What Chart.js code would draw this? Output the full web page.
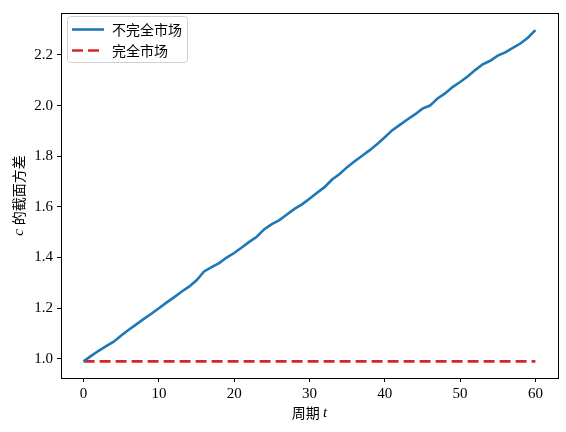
<!DOCTYPE html>
<html>
<head>
<meta charset="utf-8">
<script src="https://cdn.jsdelivr.net/npm/chart.js@4/dist/chart.umd.min.js"></script>
<style>
html,body{margin:0;padding:0;background:#fff;}
#c{display:block;}
</style>
</head>
<body>
<canvas id="c" width="566" height="432"></canvas>
<script>
const periods = [];
for (let t = 0; t <= 60; t++) periods.push(t);
const imperfectMarket = [
  0.990, 1.012, 1.032, 1.050, 1.068, 1.092, 1.115, 1.136, 1.158, 1.178,
  1.200, 1.222, 1.243, 1.265, 1.285, 1.310, 1.345, 1.362, 1.378, 1.400,
  1.418, 1.440, 1.462, 1.482, 1.512, 1.532, 1.548, 1.570, 1.592, 1.610,
  1.632, 1.656, 1.678, 1.708, 1.730, 1.757, 1.780, 1.802, 1.824, 1.848,
  1.875, 1.903, 1.924, 1.945, 1.965, 1.988, 2.000, 2.028, 2.048, 2.073,
  2.093, 2.115, 2.140, 2.163, 2.177, 2.197, 2.210, 2.228, 2.245, 2.268,
  2.298
];
const perfectMarket = periods.map(() => 0.99);
const xTicks = [0, 10, 20, 30, 40, 50, 60];
const yTicks = [1.0, 1.2, 1.4, 1.6, 1.8, 2.0, 2.2];
const seriesLabels = ['不完全市场', '完全市场'];

const FONT = "'Liberation Serif', 'Noto Sans CJK SC', serif";
const CJK = "'Noto Sans CJK SC', 'Liberation Serif', serif";

const frameAndLabels = {
  id: 'frameAndLabels',
  afterDraw(chart) {
    const ctx = chart.ctx;
    const a = chart.chartArea;
    ctx.save();
    ctx.strokeStyle = '#000';
    ctx.lineWidth = 1;
    ctx.strokeRect(Math.round(a.left) + 0.5, Math.round(a.top) + 0.5,
                   Math.round(a.right - a.left), Math.round(a.bottom - a.top));

    // Legend
    const lx = 67, ly = 16, lw = 120, lh = 46;
    ctx.fillStyle = 'rgba(255,255,255,0.8)';
    ctx.strokeStyle = '#d0d0d0';
    ctx.lineWidth = 1;
    ctx.beginPath();
    if (ctx.roundRect) ctx.roundRect(lx + 0.5, ly + 0.5, lw, lh, 3); else ctx.rect(lx + 0.5, ly + 0.5, lw, lh);
    ctx.fill();
    ctx.stroke();
    const rows = [29.5, 50.5];
    chart.data.datasets.forEach((ds, i) => {
      ctx.strokeStyle = ds.borderColor;
      ctx.lineWidth = ds.borderWidth;
      ctx.setLineDash(ds.borderDash || []);
      ctx.beginPath();
      ctx.moveTo(72, rows[i]);
      ctx.lineTo(104, rows[i]);
      ctx.stroke();
      ctx.setLineDash([]);
      ctx.fillStyle = '#000';
      ctx.font = '14px ' + CJK;
      ctx.textBaseline = 'middle';
      ctx.textAlign = 'left';
      ctx.fillText(ds.label, 112, rows[i]);
    });

    // X title: 周期 t
    ctx.fillStyle = '#000';
    ctx.textBaseline = 'middle';
    ctx.font = '14px ' + CJK;
    const xt1 = '周期 ';
    ctx.font = 'italic 15px ' + FONT;
    const wt = ctx.measureText('t').width;
    ctx.font = '14px ' + CJK;
    const w1 = ctx.measureText(xt1).width;
    const cx = (a.left + a.right) / 2;
    let sx = cx - (w1 + wt) / 2;
    ctx.textAlign = 'left';
    ctx.fillText(xt1, sx, 413);
    ctx.font = 'italic 15px ' + FONT;
    ctx.fillText('t', sx + w1, 413);

    // Y title: c 的截面方差
    ctx.save();
    ctx.translate(19, (a.top + a.bottom) / 2);
    ctx.rotate(-Math.PI / 2);
    ctx.font = 'italic 15px ' + FONT;
    const wc = ctx.measureText('c ').width;
    ctx.font = '14px ' + CJK;
    const wr = ctx.measureText('的截面方差').width;
    let sy = -(wc + wr) / 2;
    ctx.font = 'italic 15px ' + FONT;
    ctx.fillText('c ', sy, 0);
    ctx.font = '14px ' + CJK;
    ctx.fillText('的截面方差', sy + wc, 0);
    ctx.restore();
    ctx.restore();
  }
};

new Chart(document.getElementById('c'), {
  type: 'line',
  data: {
    datasets: [
      {
        label: seriesLabels[0],
        data: periods.map((t, i) => ({ x: t, y: imperfectMarket[i] })),
        borderColor: '#1f77b4',
        borderWidth: 2.6,
        pointRadius: 0,
        fill: false,
        tension: 0
      },
      {
        label: seriesLabels[1],
        data: periods.map((t, i) => ({ x: t, y: perfectMarket[i] })),
        borderColor: '#d62728',
        borderWidth: 2.6,
        borderDash: [11, 5],
        pointRadius: 0,
        fill: false,
        tension: 0
      }
    ]
  },
  options: {
    responsive: false,
    animation: false,
    devicePixelRatio: 1,
    layout: { padding: { left: 0, right: 8, top: 5, bottom: 0 } },
    plugins: { legend: { display: false }, tooltip: { enabled: false } },
    scales: {
      x: {
        type: 'linear',
        min: -3,
        max: 63,
        afterBuildTicks(scale) { scale.ticks = xTicks.map(v => ({ value: v })); },
        afterFit(scale) { scale.height = 54; },
        grid: { drawOnChartArea: false, drawTicks: true, tickLength: 4, color: '#000' },
        border: { display: true, color: '#000' },
        ticks: { color: '#000', font: { family: FONT, size: 15 }, padding: 3, maxRotation: 0,
                 callback: v => String(v) }
      },
      y: {
        min: 0.9245,
        max: 2.3655,
        afterBuildTicks(scale) { scale.ticks = yTicks.map(v => ({ value: v })); },
        afterFit(scale) { scale.width = 61; },
        grid: { drawOnChartArea: false, drawTicks: true, tickLength: 4, color: '#000' },
        border: { display: true, color: '#000' },
        ticks: { color: '#000', font: { family: FONT, size: 15 }, padding: 4,
                 callback: v => Number(v).toFixed(1) }
      }
    }
  },
  plugins: [frameAndLabels]
});
</script>
</body>
</html>
